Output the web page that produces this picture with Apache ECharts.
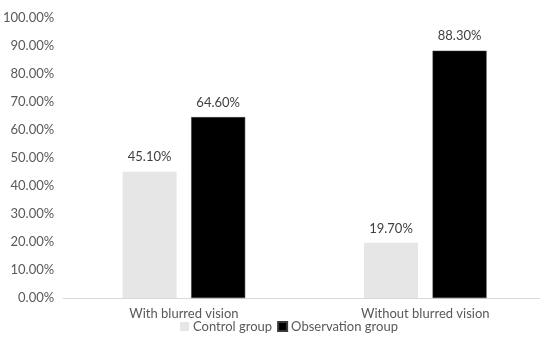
<!DOCTYPE html>
<html>
<head>
<meta charset="utf-8">
<script src="https://cdn.jsdelivr.net/npm/echarts@6/dist/echarts.min.js"></script>
<style>html,body{margin:0;padding:0;background:#fff;overflow:hidden;width:540px;height:338px}#c{width:560px;height:338px}</style>
</head>
<body>
<div id="c"></div>
<script>
var categories = ['With blurred vision', 'Without blurred vision'];
var controlGroup = [45.1, 19.7];
var observationGroup = [64.6, 88.3];
var seriesNames = ['Control group', 'Observation group'];

var chart = echarts.init(document.getElementById('c'), null, {renderer: 'canvas'});
var fmt = function (v) { return Number(v).toFixed(2) + '%'; };
var font = 'Lato';
chart.setOption({
  animation: false,
  backgroundColor: '#ffffff',
  grid: {left: 63, top: 18, width: 483, height: 280, containLabel: false},
  legend: {
    data: seriesNames,
    top: 315,
    left: 175,
    itemWidth: 9,
    itemHeight: 9,
    itemGap: 5,
    icon: 'rect',
    textStyle: {fontFamily: font, fontSize: 13, color: '#595959', padding: [0, 0, 0, -1]}
  },
  xAxis: {
    type: 'category',
    data: categories,
    axisLine: {lineStyle: {color: '#d9d9d9'}},
    axisTick: {show: false},
    axisLabel: {fontFamily: font, fontSize: 13, color: '#595959', margin: 9}
  },
  yAxis: {
    type: 'value',
    min: 0,
    max: 100,
    interval: 10,
    axisLine: {show: false},
    axisTick: {show: false},
    splitLine: {show: false},
    axisLabel: {fontFamily: font, fontSize: 13, color: '#595959', margin: 9, formatter: fmt}
  },
  series: [
    {
      name: seriesNames[0],
      type: 'bar',
      data: controlGroup,
      barWidth: 54,
      barGap: '27%',
      itemStyle: {color: '#e6e6e6'},
      label: {show: true, position: 'top', distance: 8, fontFamily: font, fontSize: 13, color: '#404040', formatter: function (p) { return fmt(p.value); }}
    },
    {
      name: seriesNames[1],
      type: 'bar',
      data: observationGroup,
      barWidth: 54,
      barGap: '27%',
      itemStyle: {color: '#000000', borderColor: '#3a3a3a', borderWidth: 0.5},
      label: {show: true, position: 'top', distance: 8, fontFamily: font, fontSize: 13, color: '#404040', formatter: function (p) { return fmt(p.value); }}
    }
  ]
});
</script>
</body>
</html>
